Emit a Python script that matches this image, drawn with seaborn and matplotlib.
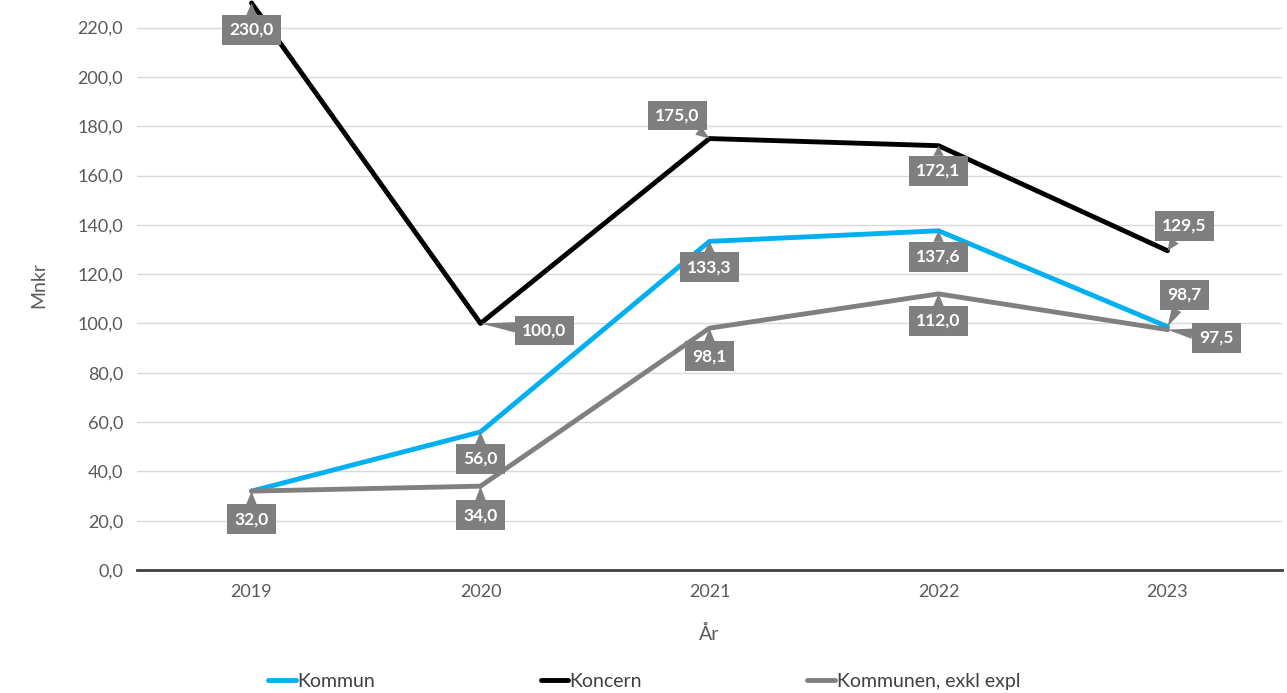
import numpy as np
import pandas as pd
import matplotlib
matplotlib.use("Agg")
import matplotlib.pyplot as plt
import seaborn as sns

years = ["2019", "2020", "2021", "2022", "2023"]
kommun = [32.0, 56.0, 133.3, 137.6, 98.7]
koncern = [230.0, 100.0, 175.0, 172.1, 129.5]
exkl = [32.0, 34.0, 98.1, 112.0, 97.5]
series_names = ["Kommun", "Koncern", "Kommunen, exkl expl"]
colors = ["#00B0F0", "#000000", "#808080"]

# label offsets in screen pixels (dx right, dy down) from the point, None = no label
offsets = {
    "Kommun": [(0, 28), (0, 27), (0, 26), (0, 26), (17, -32)],
    "Koncern": [(0, 27), (64, 7), (-32, -23), (0, 25), (17, -25)],
    "Kommunen, exkl expl": [None, (0, 29), (0, 28), (0, 27), (49, 8)],
}

df = pd.DataFrame({"År": years * 3,
                   "Värde": kommun + koncern + exkl,
                   "Serie": [s for s in series_names for _ in years]})
df["x"] = df.groupby("Serie").cumcount()

sns.set_theme(style="white")
plt.rcParams["font.family"] = ["Lato", "DejaVu Sans"]

fig = plt.figure(figsize=(12.87, 6.93), dpi=100)
ax = fig.add_axes([137 / 1287, 1 - 570 / 693, (1282 - 137) / 1287, 570 / 693])

sns.lineplot(data=df, x="x", y="Värde", hue="Serie", palette=colors,
             hue_order=series_names, linewidth=3.5, ax=ax, legend=True, zorder=3)

ax.set_xlim(-0.5, 4.5)
ax.set_ylim(0, 231.2)
ax.set_yticks(np.arange(0, 221, 20))
ax.set_yticklabels([f"{v:.1f}".replace(".", ",") for v in np.arange(0, 221, 20)],
                   color="#595959", fontsize=13)
ax.set_xticks(range(len(years)))
ax.set_xticklabels(years, color="#595959", fontsize=13)
ax.tick_params(axis="both", length=0, pad=10)
ax.grid(axis="y", color="#d9d9d9", linewidth=1)
for s in ["top", "right", "left"]:
    ax.spines[s].set_visible(False)
ax.spines["bottom"].set_color("#404040")
ax.spines["bottom"].set_linewidth(2)
ax.set_ylabel("Mnkr", color="#595959", fontsize=14, labelpad=22)

vals = {"Kommun": kommun, "Koncern": koncern, "Kommunen, exkl expl": exkl}
for name in series_names:
    for i, v in enumerate(vals[name]):
        off = offsets[name][i]
        if off is None:
            continue
        ax.annotate(f"{v:.1f}".replace(".", ","), xy=(i, v),
                    xytext=(off[0] * 0.72, -off[1] * 0.72), textcoords="offset points",
                    ha="center", va="center", color="white", fontsize=12.5,
                    fontweight="bold", annotation_clip=False, zorder=5,
                    bbox=dict(boxstyle="square,pad=0.4", fc="#7f7f7f", ec="none"),
                    arrowprops=dict(arrowstyle="wedge,tail_width=0.6,shrink_factor=0.5",
                                    fc="#7f7f7f", ec="none", shrinkA=0, shrinkB=0))

handles, labels = ax.get_legend_handles_labels()
ax.legend(handles, labels, loc="center", bbox_to_anchor=(0.443, -0.195), ncol=3,
          frameon=False, fontsize=14, handlelength=1.4, handletextpad=0.1,
          columnspacing=8.5, labelcolor="#404040")
ax.set_xlabel("År", color="#595959", fontsize=14, labelpad=18)

fig.savefig("out.png", dpi=100)
